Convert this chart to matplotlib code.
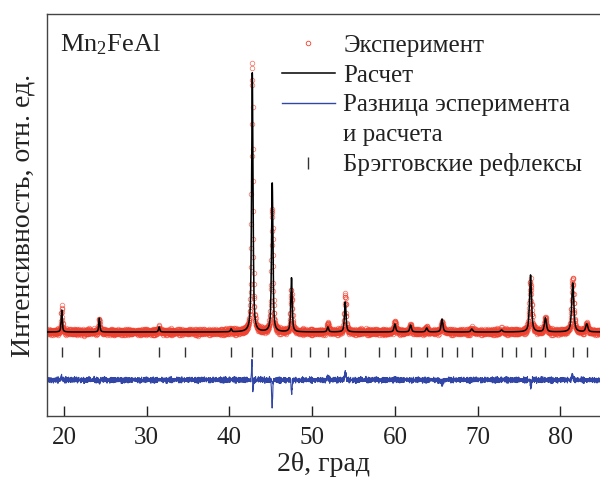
import numpy as np
import matplotlib
matplotlib.use("Agg")
import matplotlib.pyplot as plt
from matplotlib.lines import Line2D

plt.rcParams['font.family'] = ['Liberation Serif', 'DejaVu Serif']
plt.rcParams['mathtext.fontset'] = 'custom'
plt.rcParams['mathtext.rm'] = 'Liberation Serif'
plt.rcParams['mathtext.it'] = 'Liberation Serif:italic'

# ---- data (intensity in arbitrary units, background = 0) ----
scan_start = 18.0
scan_stop = 84.8
scan_step = 0.02

peak_pos = [19.72, 24.27, 31.50, 40.20, 42.76, 45.17, 47.50, 51.90, 54.00,
            60.00, 61.90, 63.85, 65.70, 69.30, 72.90, 76.40, 78.20, 81.50, 83.20]
peak_height = [22, 14, 5, 3, 259, 150, 54, 5, 30,
               8, 7, 4, 13, 3, 2, 57, 14, 49, 8]
peak_fwhm = [0.16, 0.16, 0.18, 0.18, 0.20, 0.20, 0.20, 0.22, 0.22,
             0.24, 0.24, 0.25, 0.25, 0.26, 0.27, 0.28, 0.28, 0.30, 0.30]

# experiment - calculation misfits
misfit_pos = [19.70, 24.30, 42.72, 42.84, 45.16, 47.52, 51.90, 54.00, 60.0, 65.7, 76.45, 81.45]
misfit_amp = [3, -2, 18, -12, -27, -14, 4, 8, 2, -4, -8, 6]
misfit_width = [0.06, 0.06, 0.05, 0.05, 0.06, 0.06, 0.08, 0.08, 0.1, 0.1, 0.07, 0.08]

counting_noise_a = [1.2, -0.8, 2.1, -1.9, 0.4, 2.7, -2.3, 0.9, -0.2, 1.7, -2.8, 0.6, 2.2,
                    -1.1, -0.5, 1.4, -2.0, 2.9, -0.7, 0.3, -1.6, 1.9, -2.5, 0.8, 1.1,
                    -0.3, 2.4, -1.4, 0.2, -2.7, 1.6, -0.9, 2.0, -1.8, 0.5, 1.3, -2.2,
                    0.7, -0.1, 2.6, -1.2, 0.0, -2.4, 1.8, -0.6, 1.0, -1.5, 2.3, -0.4,
                    0.1, -1.0, 1.5, -2.1]
counting_noise_b = [0.6, -1.1, 0.2, 1.4, -0.4, -1.3, 0.9, 0.1, -0.7, 1.2, -0.2, 0.8,
                    -1.4, 0.5, 1.0, -0.9, 0.3, -0.5, 1.3, -1.2, 0.0, 0.7, -0.8, 1.1,
                    -0.3, 0.4, -1.0, 0.9, -0.6, 0.2, -0.1]

bragg_pos = [19.72, 24.27, 31.50, 34.60, 40.20, 42.76, 45.17, 47.50, 49.75,
             51.90, 54.00, 58.10, 60.00, 61.90, 63.85, 65.70, 67.50, 69.30,
             72.90, 74.70, 76.40, 78.20, 81.50, 83.20]

diff_offset = -48
bragg_low, bragg_high = -25, -15

# ---- profiles ----
tt = np.arange(scan_start, scan_stop + scan_step / 2, scan_step)

def pseudo_voigt(x, x0, h, fwhm, eta=0.65):
    g = np.exp(-4 * np.log(2) * ((x - x0) / fwhm) ** 2)
    l = 1.0 / (1 + 4 * ((x - x0) / fwhm) ** 2)
    return h * (eta * l + (1 - eta) * g)

calc = np.zeros_like(tt)
for p, h, w in zip(peak_pos, peak_height, peak_fwhm):
    calc += pseudo_voigt(tt, p, h, w)

misfit = np.zeros_like(tt)
for p, a, w in zip(misfit_pos, misfit_amp, misfit_width):
    misfit += a * np.exp(-0.5 * ((tt - p) / w) ** 2)

noise = (np.resize(np.array(counting_noise_a), tt.size) * 0.8
         + np.resize(np.array(counting_noise_b), tt.size))
exper = calc + misfit + noise
diff = exper - calc + diff_offset

# ---- figure ----
fig = plt.figure(figsize=(6.0, 4.84), dpi=100)
ax = fig.add_axes([47 / 600, 1 - 416 / 484, 1 - 47 / 600, (416 - 14) / 484])

red = '#f0402e'
blue = '#3246a8'

ax.plot(tt, exper, linestyle='none', marker='o', markersize=3.3,
        markerfacecolor='none', markeredgecolor=red, markeredgewidth=0.55, alpha=0.7,
        zorder=2)
ax.plot(tt, calc, color='black', linewidth=1.1, zorder=3)
ax.plot(tt, diff, color=blue, linewidth=0.8, zorder=2)
ax.vlines(bragg_pos, bragg_low, bragg_high, color='#333333', linewidth=1.0)

ax.set_xlim(17.94, 84.8)
ax.set_ylim(-84, 318)
ax.set_xticks([20, 30, 40, 50, 60, 70, 80])
ax.set_yticks([])
ax.tick_params(axis='x', direction='in', length=7, width=1.0, labelsize=18,
               pad=8, colors='#222222')
for s in ['left', 'bottom', 'top']:
    ax.spines[s].set_linewidth(1.0)
    ax.spines[s].set_color('#444444')
ax.spines['right'].set_visible(False)

ax.set_xlabel('2θ, град', fontsize=20, labelpad=2, color='#222222')
ax.set_ylabel('Интенсивность, отн. ед.', fontsize=20, labelpad=8, color='#222222')

ax.text(0.024, 0.955, r'Mn$_\mathrm{2}$FeAl', transform=ax.transAxes,
        fontsize=19, va='top', ha='left', color='#222222')

handles = [
    Line2D([], [], linestyle='none', marker='o', markersize=3.3, markerfacecolor='none',
           markeredgecolor=red, markeredgewidth=0.6),
    Line2D([], [], color='black', linewidth=1.1),
    Line2D([], [], color=blue, linewidth=1.0),
    Line2D([], [], linestyle='none'),
    Line2D([], [], linestyle='none', marker='|', markersize=9, markeredgecolor='#333333',
           markeredgewidth=1.0),
]
labels = ['Эксперимент', 'Расчет', 'Разница эсперимента', 'и расчета',
          'Брэгговские рефлексы']
leg = ax.legend(handles, labels, loc='upper left', bbox_to_anchor=(0.388, 1.0),
                frameon=False, fontsize=18, handlelength=2.1, handletextpad=0.35,
                labelspacing=0.29, borderaxespad=0.42, labelcolor='#222222')

fig.savefig('out.png', dpi=100)
